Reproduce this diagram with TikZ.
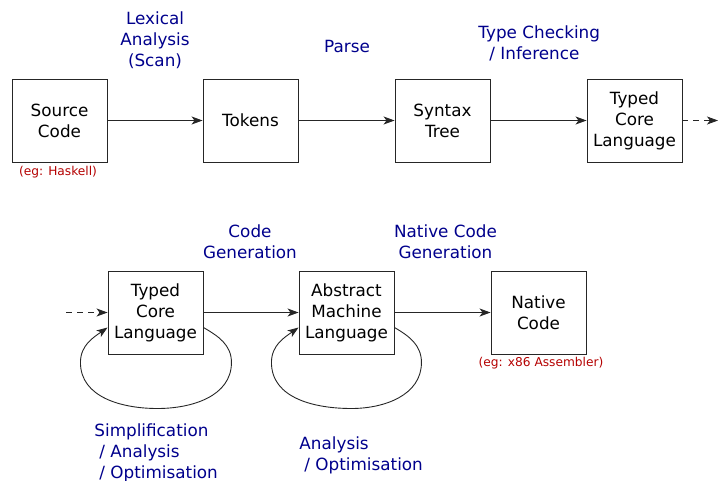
\documentclass[tikz,border=0pt]{standalone}
\usepackage{fontspec}
\setmainfont{DejaVu Sans}
\usetikzlibrary{arrows.meta, positioning}
\definecolor{passblue}{RGB}{0,0,140}
\definecolor{notered}{RGB}{180,0,0}
\newcommand{\bigtxt}{\fontsize{16.8}{21}\selectfont}
\newcommand{\smalltxt}{\fontsize{12.2}{14}\selectfont}

\begin{document}
\begin{tikzpicture}[x=1pt, y=-1pt, line width=0.9pt, >={Stealth[length=11pt,width=8pt,inset=3pt]},
  stage/.style={draw=black!85, rectangle, minimum width=95pt, minimum height=83pt, align=center, font=\bigtxt, inner sep=0pt},
  passtxt/.style={text=passblue, font=\bigtxt, inner sep=0pt},
  notetxt/.style={text=notered, font=\smalltxt, inner sep=0pt},
  flow/.style={->, draw=black!85},
  flowdash/.style={->, draw=black!85, dash pattern=on 6pt off 5pt}]
\useasboundingbox (0,0) rectangle (718,480);
% Top row: front end
\node[stage] (src) at (59.5,120.5) {Source\\Code};
\node[stage] (tok) at (250.5,120.5) {Tokens};
\node[stage] (tree) at (442.5,120.5) {Syntax\\Tree};
\node[stage] (core) at (634.5,120.5) {Typed\\Core\\Language};
\coordinate (coreout) at (718,120.5);
\node[notetxt] (srcnote) at (58,172) {(eg: Haskell)};
%
\draw[flow] (src) -- (tok);
\draw[flow] (tok) -- (tree);
\draw[flow] (tree) -- (core);
\draw[flowdash] (core) -- (coreout);
%
\node[passtxt, align=center] (lex) at (155,40) {Lexical\\Analysis\\(Scan)};
\node[passtxt] (parse) at (347,46) {Parse};
\node[passtxt, align=left, anchor=west] (check) at (478,43.5) {Type Checking\\\hspace{11pt}/ Inference};
%
% Bottom row: back end
\node[stage] (core2) at (155.5,312.5) {Typed\\Core\\Language};
\node[stage] (abs) at (346.5,312.5) {Abstract\\Machine\\Language};
\node[stage] (nat) at (538.5,312.5) {Native\\Code};
\coordinate (corein) at (66,312.5);
\node[notetxt] (natnote) at (541,363) {(eg: x86 Assembler)};
%
\draw[flowdash] (corein) -- (core2);
\draw[flow] (core2) -- (abs);
\draw[flow] (abs) -- (nat);
%
% Loops back into the same stage
\draw[flow] ([yshift=-15pt]core2.east) to[out=-30,in=90] ++(28,35) to[out=-90,in=0] ++(-74,46)
  to[out=180,in=-90] ++(-77,-46) to[out=90,in=-145] ([yshift=-15pt]core2.west);
\draw[flow] ([yshift=-15pt]abs.east) to[out=-30,in=90] ++(27,35) to[out=-90,in=0] ++(-70,46)
  to[out=180,in=-90] ++(-80,-46) to[out=90,in=-145] ([yshift=-15pt]abs.west);
%
\node[passtxt, align=center] (codegen) at (250,242) {Code\\Generation};
\node[passtxt, align=center] (natgen) at (445.5,242) {Native Code\\Generation};
\node[passtxt, align=left, anchor=west] (simp) at (94,453) {Simplification\\\hspace{5pt}/ Analysis\\\hspace{5pt}/ Optimisation};
\node[passtxt, align=left, anchor=west] (opt) at (299,455.5) {Analysis\\\hspace{5pt}/ Optimisation};
\end{tikzpicture}
\end{document}
